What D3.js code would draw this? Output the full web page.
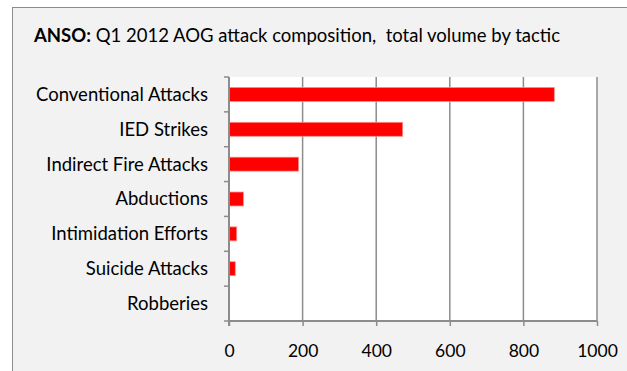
<!DOCTYPE html>
<html>
<head>
<meta charset="utf-8">
<script src="https://cdn.jsdelivr.net/npm/d3@7"></script>
<style>
  html, body { margin: 0; padding: 0; background: #ffffff; }
  svg { display: block; }
  text { font-family: Lato, "Open Sans", sans-serif; fill: #000; }
</style>
</head>
<body>
<svg id="chart" width="627" height="371"></svg>
<script>
// Q1 2012 AOG attack composition by tactic
const categories = [
  "Conventional Attacks",
  "IED Strikes",
  "Indirect Fire Attacks",
  "Abductions",
  "Intimidation Efforts",
  "Suicide Attacks",
  "Robberies"
];
const attackCounts = [884, 472, 189, 39, 21, 17, 1];
const xTicks = [0, 200, 400, 600, 800, 1000];

const svg = d3.select("#chart");
const W = 627, H = 371;

// chart frame (extends past the right and bottom edges)
svg.append("rect")
  .attr("x", 12.5).attr("y", 7.5)
  .attr("width", W).attr("height", H)
  .attr("fill", "#f2f2f2")
  .attr("stroke", "#8c8c8c")
  .attr("stroke-width", 1);

// title
const title = svg.append("text")
  .attr("x", 34).attr("y", 41.5)
  .attr("font-size", 18.5)
  .style("white-space", "pre");
title.append("tspan").attr("font-weight", "bold").text("ANSO:");
title.append("tspan").text(" Q1 2012 AOG attack composition,  total volume by tactic");

const plot = { left: 229, right: 597, top: 77, bottom: 321 };

const x = d3.scaleLinear().domain([0, 1000]).range([plot.left, plot.right]);
const y = d3.scaleBand().domain(categories).range([plot.top, plot.bottom])
  .paddingInner(0.6).paddingOuter(0.3);
const yBand = d3.scaleBand().domain(categories).range([plot.top, plot.bottom]);

// plot area
svg.append("rect")
  .attr("x", plot.left).attr("y", plot.top)
  .attr("width", plot.right - plot.left).attr("height", plot.bottom - plot.top)
  .attr("fill", "#ffffff");

// vertical gridlines
svg.append("g")
  .selectAll("line")
  .data(xTicks.slice(1))
  .join("line")
  .attr("x1", d => x(d)).attr("x2", d => x(d))
  .attr("y1", plot.top).attr("y2", plot.bottom)
  .attr("stroke", "#8c8c8c").attr("stroke-width", 1.5);

// bars
svg.append("g")
  .selectAll("rect")
  .data(categories.map((c, i) => ({ c, v: attackCounts[i] })))
  .join("rect")
  .attr("x", x(0))
  .attr("y", d => y(d.c))
  .attr("width", d => x(d.v) - x(0))
  .attr("height", y.bandwidth())
  .attr("fill", "#ff0000")
  .attr("stroke", "#ff8c8c")
  .attr("stroke-width", 0.75);

// x axis
const xAxis = svg.append("g")
  .attr("transform", `translate(0,${plot.bottom})`)
  .call(d3.axisBottom(x).tickValues(xTicks).tickSize(5).tickPadding(19).tickFormat(d3.format("d")));
xAxis.select(".domain").attr("stroke", "#8c8c8c").attr("stroke-width", 2)
  .attr("d", `M${plot.left},0H${plot.right}`);
xAxis.selectAll(".tick line").attr("stroke", "#8c8c8c").attr("stroke-width", 1.5);
xAxis.selectAll(".tick text").attr("font-size", 17.5).attr("font-family", "Lato, sans-serif").attr("fill", "#000");

// y axis: ticks at category boundaries, labels centred in each band
const yAxis = svg.append("g").attr("transform", `translate(${plot.left},0)`);
yAxis.append("line")
  .attr("x1", 0).attr("x2", 0).attr("y1", plot.top).attr("y2", plot.bottom + 5)
  .attr("stroke", "#8c8c8c").attr("stroke-width", 2);
yAxis.selectAll("line.tk")
  .data(d3.range(categories.length + 1))
  .join("line").attr("class", "tk")
  .attr("x1", -5).attr("x2", 0)
  .attr("y1", i => plot.top + i * yBand.step())
  .attr("y2", i => plot.top + i * yBand.step())
  .attr("stroke", "#8c8c8c").attr("stroke-width", 1.5);
yAxis.selectAll("text")
  .data(categories)
  .join("text")
  .attr("x", -21)
  .attr("y", d => yBand(d) + yBand.bandwidth() / 2)
  .attr("dy", "0.35em")
  .attr("text-anchor", "end")
  .attr("font-size", 18.5)
  .text(d => d);
</script>
</body>
</html>
